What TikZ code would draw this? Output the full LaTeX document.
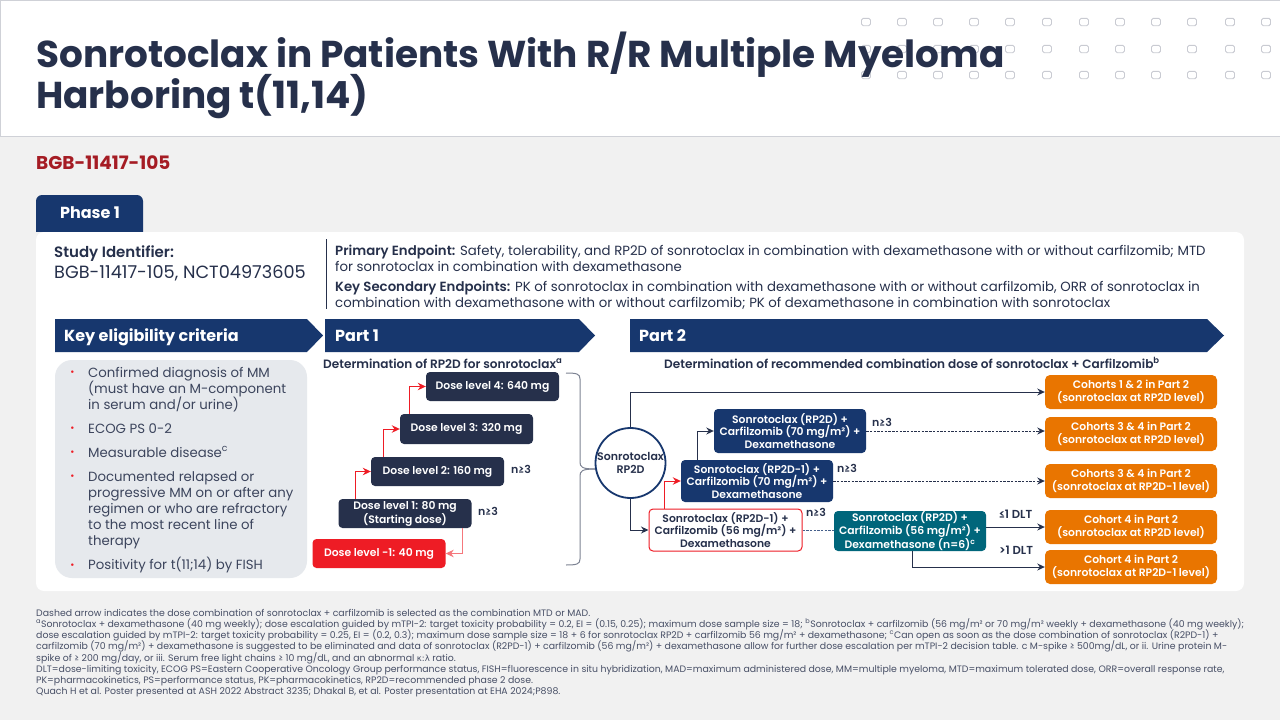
\documentclass[tikz,border=0pt]{standalone}
\usepackage{fontspec}
\setmainfont{Poppins}[BoldFont={Poppins SemiBold}]
\newfontfamily\heavy{Poppins}[UprightFont={* Bold}]
\newfontfamily\djv{DejaVu Sans}
\usetikzlibrary{arrows.meta,calc}
\definecolor{ink}{HTML}{26304B}
\definecolor{navy}{HTML}{17376E}
\definecolor{teal2}{HTML}{00667B}
\definecolor{orange2}{HTML}{E97500}
\definecolor{red2}{HTML}{EE1C25}
\definecolor{page}{HTML}{F1F1F1}
\definecolor{trialred}{HTML}{A51C24}
\definecolor{panelgrey}{HTML}{E6E9ED}
\newcommand{\fsz}[1]{\fontsize{#1}{#1}\selectfont}
\newcommand{\fszb}[2]{\fontsize{#1}{#2}\selectfont}
\tikzset{
  x=1pt,y=-1pt,
  tx/.style={anchor=base west,inner sep=0pt,text=ink},
  fn/.style={tx,font=\fsz{9.36},text=ink!85},
  ep/.style={tx,font=\fsz{13.3}},
  li/.style={tx,font=\fsz{13.3},text=ink!90},
  hd/.style={tx,text=white,font=\heavy\fsz{16}},
  bul/.style={anchor=center,inner sep=0pt,text=red2,font=\fsz{10}},
  lab/.style={anchor=center,inner sep=0pt,text=ink,font=\bfseries\fsz{11}},
  dlt/.style={lab,font=\bfseries\fsz{11.6}},
  box/.style={rectangle,rounded corners=4pt,inner sep=0pt,align=center,font=\bfseries\fszb{10.8}{12.6},text=white},
  dose/.style={box,fill=ink,minimum width=133pt,minimum height=29pt},
  nbox/.style={box,fill=navy,minimum width=152pt},
  obox/.style={box,fill=orange2,minimum width=172pt,minimum height=34pt,rounded corners=5pt},
  head/.style={fill=navy,draw=none},
  dot/.style={draw=ink!25,line width=.9pt,rounded corners=1.6pt},
  ln/.style={draw=ink,line width=1pt,-{Stealth[length=7.5pt,width=7pt]}},
  rd/.style={draw=red2,line width=1pt,-{Stealth[length=8pt,width=7.5pt]}},
  dl/.style={ln,dashed,dash pattern=on 2.4pt off 1.3pt},
}
\begin{document}
\begin{tikzpicture}
\useasboundingbox (0,0) rectangle (1280,720);
\fill[page] (0,0) rectangle (1280,720);
\filldraw[fill=white,draw=ink!22,line width=1pt] (0,.5) rectangle (1280,136);
\foreach \xx in {866,902,938,974,1010,1047,1084,1120,1156,1192,1230,1266}
  \foreach \yy in {22,49,75}
    \draw[dot] (\xx-4.5,\yy-3.7) rectangle (\xx+4.5,\yy+3.7);
\node[tx,font=\heavy\fsz{37.4}] (title1) at (36,67) {Sonrotoclax in Patients With R/R Multiple Myeloma};
\node[tx,font=\heavy\fsz{37.4}] (title2) at (36,108) {Harboring t(11,14)};
\node[tx,font=\heavy\fsz{18.5},text=trialred] (trial) at (36,169) {BGB-11417-105};
% panel
\fill[navy,rounded corners=6pt] (36,240) -- (36,195) -- (143,195) -- (143,240) -- cycle;
\fill[page] (36,232) rectangle (143,242);
\fill[white,rounded corners=8pt] (36,232) rectangle (1244,591);
\node[anchor=center,inner sep=0,text=white,font=\heavy\fsz{16}] (phase) at (90,213) {Phase 1};
\node[tx,font=\bfseries\fsz{15}] (sid1) at (54,257) {Study Identifier:};
\node[tx,font=\fsz{17.7}] (sid2) at (54,278) {BGB-11417-105, NCT04973605};
\draw[ink,line width=1pt] (326.5,239) -- (326.5,309);
\node[ep] (e1) at (335,255) {\textbf{Primary Endpoint:} Safety, tolerability, and RP2D of sonrotoclax in combination with dexamethasone with or without carfilzomib; MTD};
\node[ep] (e2) at (335,271) {for sonrotoclax in combination with dexamethasone};
\node[ep] (e3) at (335,291) {\textbf{Key Secondary Endpoints:} PK of sonrotoclax in combination with dexamethasone with or without carfilzomib, ORR of sonrotoclax in};
\node[ep] (e4) at (335,307) {combination with dexamethasone with or without carfilzomib; PK of dexamethasone in combination with sonrotoclax};
% headers
\fill[head] (55,319) -- (307,319) -- (323,335.5) -- (307,352) -- (55,352) -- cycle;
\fill[head] (325,319) -- (579,319) -- (595,335.5) -- (579,352) -- (325,352) -- cycle;
\fill[head] (630,319) -- (1207,319) -- (1224,335.5) -- (1207,352) -- (630,352) -- cycle;
\node[hd] (h1) at (64,341) {Key eligibility criteria};
\node[hd] (h2) at (335,341) {Part 1};
\node[hd] (h3) at (639,341) {Part 2};
% eligibility
\fill[panelgrey,rounded corners=17pt] (55,360) rectangle (307,578);
\foreach \yy/\nn in {372/a,428/b,452/c,476/d,565/e} \node[bul] (bu\nn) at (72.5,\yy+1) {\textbullet};
\node[li] (l1) at (88,377) {Confirmed diagnosis of MM};
\node[li] (l2) at (88,393) {(must have an M-component};
\node[li] (l3) at (88,409) {in serum and/or urine)};
\node[li] (l4) at (88,433) {ECOG PS 0-2};
\node[li] (l5) at (88,457) {Measurable disease\textsuperscript{c}};
\node[li] (l6) at (88,481) {Documented relapsed or};
\node[li] (l7) at (88,497) {progressive MM on or after any};
\node[li] (l8) at (88,513) {regimen or who are refractory};
\node[li] (l9) at (88,529) {to the most recent line of};
\node[li] (l10) at (88,545) {therapy};
\node[li] (l11) at (88,569) {Positivity for t(11;14) by FISH};
% part 1
\node[tx,font=\bfseries\fsz{12.1}] (s1) at (323,368) {Determination of RP2D for sonrotoclax\textsuperscript{a}};
\node[dose] (d4) at (492.5,386.5) {Dose level 4: 640 mg};
\node[dose,minimum height=30pt] (d3) at (466.5,429) {Dose level 3: 320 mg};
\node[dose] (d2) at (437.5,471.5) {Dose level 2: 160 mg};
\node[dose] (d1) at (405,513.5) {Dose level 1: 80 mg\\(Starting dose)};
\node[dose,fill=red2] (dm) at (379,553.5) {Dose level -1: 40 mg};
\draw[rd] ($(d1.north west)+(17,0)$) |- (d2.west);
\draw[rd] ($(d2.north west)+(13,0)$) |- (d3.west);
\draw[rd] ($(d3.north west)+(9.5,0)$) |- (d4.west);
\draw[rd,draw=red2!60] ($(d1.south east)+(-9,0)$) |- (dm.east);
\node[lab] (n1) at (521,469) {n≥3};
\node[lab] (n2) at (488,511) {n≥3};
\draw[ink!60,line width=1pt] (566,373) .. controls (577,373) and (580,374) .. (580,379) -- (580,462) .. controls (580,467) and (582,469) .. (595,469);
\draw[ink!60,line width=1pt] (566,565) .. controls (577,565) and (580,564) .. (580,559) -- (580,476) .. controls (580,471) and (582,469) .. (595,469);
% part 2
\node[tx,font=\bfseries\fsz{12.1}] (s2) at (664,368) {Determination of recommended combination dose of sonrotoclax + Carfilzomib\textsuperscript{b}};
\node[circle,draw=navy,fill=white,line width=1.8pt,minimum size=70pt,inner sep=0,align=center,text=ink,font=\bfseries\fszb{11}{13}] (c) at (630.5,463) {Sonrotoclax\\RP2D};
\node[nbox,minimum height=44pt] (b1) at (790,431) {Sonrotoclax (RP2D) +\\Carfilzomib (70 mg/m²) +\\Dexamethasone};
\node[nbox,minimum height=42pt] (b2) at (757,481) {Sonrotoclax (RP2D-1) +\\Carfilzomib (70 mg/m²) +\\Dexamethasone};
\node[nbox,minimum height=42pt,fill=white,draw=red2,line width=1pt,text=ink,minimum width=153pt] (b3) at (725.5,530) {Sonrotoclax (RP2D-1) +\\Carfilzomib (56 mg/m²) +\\Dexamethasone};
\node[nbox,minimum height=40pt,fill=teal2] (b4) at (910,531) {Sonrotoclax (RP2D) +\\Carfilzomib (56 mg/m²) +\\Dexamethasone (n=6)\textsuperscript{c}};
\node[obox] (o1) at (1131,392) {Cohorts 1 \& 2 in Part 2\\(sonrotoclax at RP2D level)};
\node[obox] (o2) at (1131,434) {Cohorts 3 \& 4 in Part 2\\(sonrotoclax at RP2D level)};
\node[obox] (o3) at (1131,481) {Cohorts 3 \& 4 in Part 2\\(sonrotoclax at RP2D-1 level)};
\node[obox] (o4) at (1131,527) {Cohort 4 in Part 2\\(sonrotoclax at RP2D level)};
\node[obox] (o5) at (1131,567) {Cohort 4 in Part 2\\(sonrotoclax at RP2D-1 level)};
\draw[ln] (c.north) |- (o1.west);
\draw[ln] (c.south) |- (b3.west);
\draw[ln] ($(b2.north west)+(17,0)$) |- (b1.west);
\draw[rd] ($(b3.north west)+(15.5,0)$) |- (b2.west);
\draw[dl] (b1.east) -- (b1.east -| o2.west);
\draw[dl] (b2.east) -- (o3.west);
\draw[navy!80,line width=1pt,dashed,dash pattern=on 2.4pt off 1.3pt] (b3.east) -- (b3.east -| b4.west);
\draw[ln] (b4.east |- o4.west) -- (o4.west);
\draw[ln] ($(b4.south west)+(78.5,0)$) |- (o5.west);
\node[lab] (n3) at (882,422) {n≥3};
\node[lab] (n4) at (847,468) {n≥3};
\node[lab] (n5) at (816,512) {n≥3};
\node[dlt] (n6) at (1015.5,514) {≤1 DLT};
\node[dlt] (n7) at (1016,550) {>1 DLT};
% footnotes
\node[fn] (f1) at (36,616) {Dashed arrow indicates the dose combination of sonrotoclax + carfilzomib is selected as the combination MTD or MAD.};
\node[fn] (f2) at (36,627) {\textsuperscript{a}Sonrotoclax + dexamethasone (40 mg weekly); dose escalation guided by mTPI-2: target toxicity probability = 0.2, EI = (0.15, 0.25); maximum dose sample size = 18; \textsuperscript{b}Sonrotoclax + carfilzomib (56 mg/m² or 70 mg/m² weekly + dexamethasone (40 mg weekly);};
\node[fn] (f3) at (36,638) {dose escalation guided by mTPI-2: target toxicity probability = 0.25, EI = (0.2, 0.3); maximum dose sample size = 18 + 6 for sonrotoclax RP2D + carfilzomib 56 mg/m² + dexamethasone; \textsuperscript{c}Can open as soon as the dose combination of sonrotoclax (R2PD-1) +};
\node[fn] (f4) at (36,649) {carfilzomib (70 mg/m²) + dexamethasone is suggested to be eliminated and data of sonrotoclax (R2PD-1) + carfilzomib (56 mg/m²) + dexamethasone allow for further dose escalation per mTPI-2 decision table. c M-spike ≥ 500mg/dL, or ii. Urine protein M-};
\node[fn] (f5) at (36,661) {spike of ≥ 200 mg/day, or iii. Serum free light chains ≥ 10 mg/dL, and an abnormal {\djv\fsz{8.5}κ:λ} ratio.};
\node[fn] (f6) at (36,672) {DLT=dose-limiting toxicity, ECOG PS=Eastern Cooperative Oncology Group performance status, FISH=fluorescence in situ hybridization, MAD=maximum administered dose, MM=multiple myeloma, MTD=maximum tolerated dose, ORR=overall response rate,};
\node[fn] (f7) at (36,683) {PK=pharmacokinetics, PS=performance status, PK=pharmacokinetics, RP2D=recommended phase 2 dose.};
\node[fn] (f8) at (36,694) {Quach H et al. Poster presented at ASH 2022 Abstract 3235; Dhakal B, et al. Poster presentation at EHA 2024;P898.};
\end{tikzpicture}
\end{document}
